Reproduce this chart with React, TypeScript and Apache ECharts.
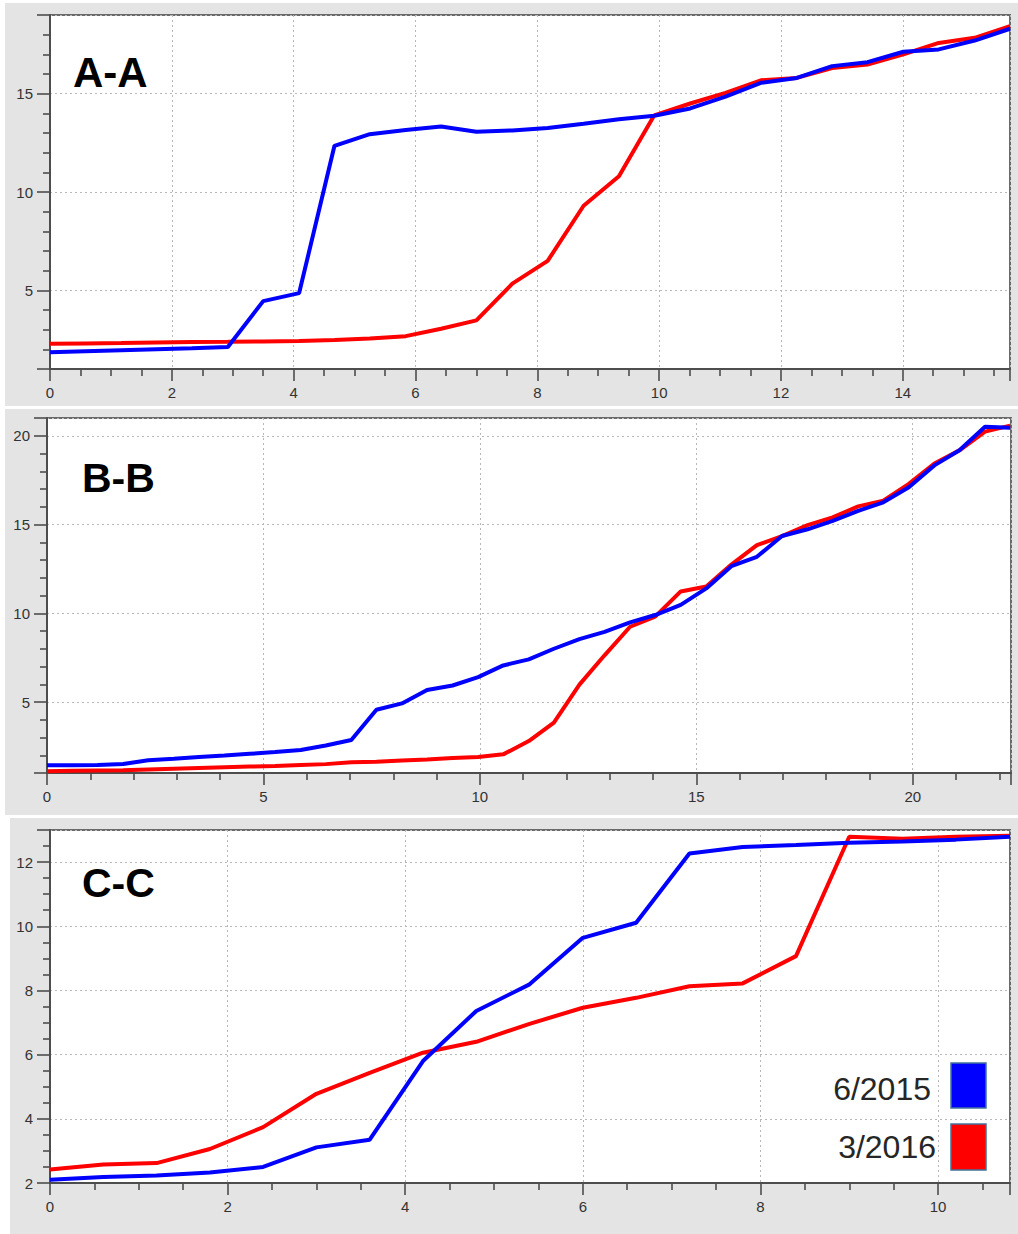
import React, { useEffect, useRef } from "react";
import * as echarts from "echarts";

const seriesNames = ["6/2015", "3/2016"];
const panelTitles = ["A-A", "B-B", "C-C"];

const aX = [0, 0.58, 1.17, 1.75, 2.33, 2.92, 3.5, 4.09, 4.67, 5.25, 5.84, 6.42, 7.0, 7.59, 8.17, 8.76, 9.34, 9.92, 10.51, 11.09, 11.67, 12.26, 12.84, 13.42, 14.01, 14.59, 15.18, 15.76];
const aBlue = [1.85, 1.9, 1.95, 2.0, 2.05, 2.12, 4.45, 4.86, 12.35, 12.94, 13.15, 13.33, 13.06, 13.13, 13.25, 13.47, 13.7, 13.88, 14.25, 14.85, 15.55, 15.8, 16.4, 16.6, 17.13, 17.25, 17.7, 18.3];
const aRed = [2.28, 2.3, 2.32, 2.35, 2.37, 2.38, 2.4, 2.43, 2.47, 2.55, 2.67, 3.05, 3.47, 5.34, 6.5, 9.3, 10.8, 13.9, 14.5, 15.04, 15.68, 15.8, 16.3, 16.48, 17.0, 17.58, 17.84, 18.43];

const bX = [0, 0.59, 1.17, 1.76, 2.34, 2.93, 3.51, 4.1, 4.68, 5.27, 5.86, 6.44, 7.03, 7.61, 8.2, 8.78, 9.37, 9.96, 10.54, 11.13, 11.71, 12.3, 12.88, 13.47, 14.05, 14.64, 15.23, 15.81, 16.4, 16.98, 17.57, 18.15, 18.74, 19.32, 19.91, 20.5, 21.08, 21.67, 22.25];
const bBlue = [1.44, 1.44, 1.45, 1.51, 1.72, 1.8, 1.9, 1.98, 2.08, 2.18, 2.3, 2.55, 2.86, 4.56, 4.92, 5.68, 5.93, 6.4, 7.06, 7.4, 8.0, 8.54, 8.95, 9.49, 9.9, 10.47, 11.4, 12.65, 13.18, 14.35, 14.73, 15.2, 15.77, 16.25, 17.1, 18.33, 19.18, 20.51, 20.45];
const bRed = [1.1, 1.12, 1.14, 1.16, 1.2, 1.24, 1.28, 1.32, 1.36, 1.4, 1.45, 1.5, 1.6, 1.64, 1.7, 1.76, 1.85, 1.9, 2.05, 2.8, 3.84, 5.98, 7.63, 9.24, 9.81, 11.23, 11.51, 12.74, 13.84, 14.35, 14.96, 15.4, 16.02, 16.34, 17.29, 18.43, 19.18, 20.23, 20.57];

const cX = [0, 0.6, 1.2, 1.8, 2.4, 3.0, 3.6, 4.2, 4.8, 5.4, 6.0, 6.6, 7.2, 7.8, 8.4, 9.0, 9.6, 10.2, 10.81];
const cBlue = [2.1, 2.19, 2.23, 2.33, 2.5, 3.11, 3.35, 5.8, 7.36, 8.19, 9.64, 10.11, 12.27, 12.47, 12.53, 12.6, 12.64, 12.7, 12.79];
const cRed = [2.42, 2.58, 2.62, 3.06, 3.74, 4.78, 5.43, 6.06, 6.4, 6.96, 7.46, 7.77, 8.13, 8.22, 9.07, 12.79, 12.73, 12.79, 12.82];

const zip = (xs: number[], ys: number[]) => xs.map((x, i) => [x, ys[i]]);

const FONT = "'Liberation Sans', Arial, sans-serif";
const BLUE = "#0000ff";
const RED = "#ff0000";

function xAxisCfg(gridIndex: number, max: number, interval: number, minorSplit: number) {
  return {
    type: "value",
    gridIndex,
    min: 0,
    max,
    interval,
    axisLine: { show: true, lineStyle: { color: "#4d4d4d", width: 2 } },
    axisTick: { show: true, inside: false, length: 12, lineStyle: { color: "#4d4d4d", width: 1.6 } },
    minorTick: { show: true, splitNumber: minorSplit, length: 7, lineStyle: { color: "#4d4d4d", width: 1.6 } },
    axisLabel: { show: true, margin: 16, color: "#333", fontSize: 15, fontFamily: FONT, showMaxLabel: false },
    splitLine: { show: true, lineStyle: { color: "#b8b8b8", width: 1, type: [2, 3] } },
    minorSplitLine: { show: false },
  };
}

function yAxisCfg(gridIndex: number, min: number, max: number, opts: any, minorSplit: number, showMin: boolean) {
  return {
    type: "value",
    gridIndex,
    min,
    max,
    ...opts,
    axisLine: { show: true, lineStyle: { color: "#4d4d4d", width: 2 } },
    axisTick: { show: true, inside: false, length: 13, lineStyle: { color: "#4d4d4d", width: 1.6 } },
    minorTick: { show: true, splitNumber: minorSplit, length: 7, lineStyle: { color: "#4d4d4d", width: 1.6 } },
    axisLabel: { show: true, margin: 17, color: "#333", fontSize: 15, fontFamily: FONT, showMaxLabel: false, showMinLabel: showMin },
    splitLine: { show: true, lineStyle: { color: "#b8b8b8", width: 1, type: [2, 3] } },
    minorSplitLine: { show: false },
  };
}

function lineSeries(name: string, color: string, data: number[][], idx: number) {
  return {
    type: "line",
    name,
    xAxisIndex: idx,
    yAxisIndex: idx,
    data,
    showSymbol: false,
    symbol: "none",
    lineStyle: { color, width: 4 },
    itemStyle: { color },
    z: color === BLUE ? 3 : 2,
  };
}

export default function App() {
  const ref = useRef<HTMLDivElement>(null);

  useEffect(() => {
    if (!ref.current) return;
    const chart = echarts.init(ref.current, null, { renderer: "svg" });
    const gridCommon = {
      show: true,
      backgroundColor: "#ffffff",
      borderColor: "#6a6a6a",
      borderWidth: 2,
      containLabel: false,
      outerBoundsMode: "none",
    };
    const option: any = {
      animation: false,
      backgroundColor: "#ffffff",
      grid: [
        { ...gridCommon, left: 50, top: 15, width: 960, height: 354 },
        { ...gridCommon, left: 47, top: 418, width: 964, height: 355 },
        { ...gridCommon, left: 50, top: 830, width: 960, height: 353 },
      ],
      xAxis: [
        xAxisCfg(0, 15.76, 2, 4),
        xAxisCfg(1, 22.27, 5, 5),
        xAxisCfg(2, 10.81, 2, 4),
      ],
      yAxis: [
        yAxisCfg(0, 1, 19, { splitNumber: 4 }, 5, false),
        yAxisCfg(1, 1, 21, { splitNumber: 4 }, 5, false),
        yAxisCfg(2, 2, 13, { interval: 2 }, 4, true),
      ],
      series: [
        lineSeries(seriesNames[1], RED, zip(aX, aRed), 0),
        lineSeries(seriesNames[0], BLUE, zip(aX, aBlue), 0),
        lineSeries(seriesNames[1], RED, zip(bX, bRed), 1),
        lineSeries(seriesNames[0], BLUE, zip(bX, bBlue), 1),
        lineSeries(seriesNames[1], RED, zip(cX, cRed), 2),
        lineSeries(seriesNames[0], BLUE, zip(cX, cBlue), 2),
      ],
      graphic: [
        { type: "rect", z: -10, silent: true, shape: { x: 5, y: 3, width: 1013, height: 403 }, style: { fill: "#e4e4e4" } },
        { type: "rect", z: -10, silent: true, shape: { x: 5, y: 409, width: 1013, height: 406 }, style: { fill: "#e4e4e4" } },
        { type: "rect", z: -10, silent: true, shape: { x: 10, y: 818, width: 1008, height: 416 }, style: { fill: "#e4e4e4" } },
        { type: "text", z: 100, x: 73, y: 72.5, style: { text: panelTitles[0], fill: "#000", font: `bold 42px ${FONT}`, verticalAlign: "middle", align: "left" } },
        { type: "text", z: 100, x: 82, y: 477.5, style: { text: panelTitles[1], fill: "#000", font: `bold 41px ${FONT}`, verticalAlign: "middle", align: "left" } },
        { type: "text", z: 100, x: 82, y: 883, style: { text: panelTitles[2], fill: "#000", font: `bold 41px ${FONT}`, verticalAlign: "middle", align: "left" } },
        { type: "rect", z: 100, shape: { x: 951, y: 1063, width: 35, height: 45 }, style: { fill: BLUE, stroke: "#41719c", lineWidth: 1.5 } },
        { type: "rect", z: 100, shape: { x: 951, y: 1124, width: 35, height: 46 }, style: { fill: RED, stroke: "#41719c", lineWidth: 1.5 } },
        { type: "text", z: 100, x: 931, y: 1088.5, style: { text: seriesNames[0], fill: "#262626", font: `32px ${FONT}`, verticalAlign: "middle", align: "right" } },
        { type: "text", z: 100, x: 936, y: 1147, style: { text: seriesNames[1], fill: "#262626", font: `32px ${FONT}`, verticalAlign: "middle", align: "right" } },
      ],
    };
    chart.setOption(option);
    return () => {
      chart.dispose();
    };
  }, []);

  return (
    <div
      ref={ref}
      style={{ position: "absolute", left: 0, top: 0, width: 1018, height: 1234 }}
    />
  );
}
